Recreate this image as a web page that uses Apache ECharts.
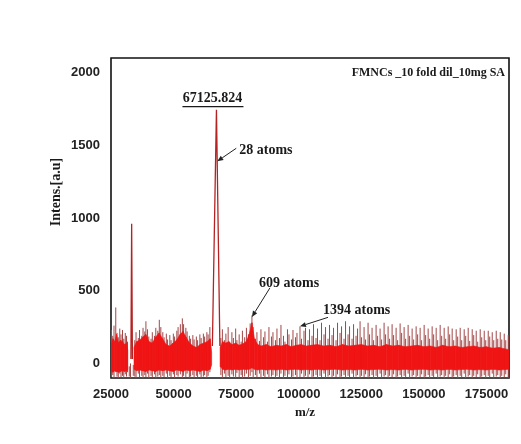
<!DOCTYPE html>
<html>
<head>
<meta charset="utf-8">
<script src="https://cdn.jsdelivr.net/npm/echarts@6/dist/echarts.min.js"></script>
<style>
  html, body { margin: 0; padding: 0; background: #fff; }
  #chart { width: 521px; height: 444px; }
</style>
</head>
<body>
<div id="chart"></div>
<script>
// dense noise core of the spectrum (m/z, lower edge, upper edge); null = no baseline noise
const bandMz = [25100, 25800, 26500, 27200, 28000, 28800, 29600, 30400, 31200, 31700, 32000,
  34200, 35200, 36400, 37600, 38900, 40200, 41500, 42800, 44200, 45600, 47000, 48400, 49800,
  51200, 52600, 53800, 55000, 56400, 57800, 59200, 60600, 62000, 63400, 64600, 65200, 65400,
  68600, 69600, 70800, 72000, 73400, 74800, 76200, 77600, 79000, 80200, 81300, 82300, 83600,
  85000, 87000, 89000, 91000, 93000, 95000, 97000, 99000, 101000, 103000, 105000, 107500,
  110000, 112500, 115000, 117500, 120000, 122500, 125000, 127500, 130000, 132500, 135000,
  137500, 140000, 142500, 145000, 147500, 150000, 152500, 155000, 157500, 160000, 162500,
  165000, 167500, 170000, 172500, 175000, 177500, 180000, 182500, 184000];
const bandLow = [-55, -60, -50, -55, -60, -55, -50, -55, -50, -40, null,
  -40, -50, -45, -50, -55, -45, -50, -55, -45, -50, -45, -50, -55,
  -45, -50, -55, -45, -50, -45, -50, -55, -45, -50, -40, -10, null,
  -20, -40, -45, -40, -45, -40, -45, -40, -42, -40, -30, -40, -45,
  -40, -45, -42, -45, -40, -45, -42, -40, -45, -42, -45, -40,
  -45, -42, -40, -45, -42, -45, -40, -45, -42, -40, -45,
  -42, -45, -40, -45, -42, -40, -45, -42, -45, -40, -45, -42,
  -40, -45, -42, -45, -40, -45, -42, -40, -35];
const bandHigh = [130, 170, 150, 200, 140, 160, 150, 130, 140, 90, null,
  110, 150, 160, 180, 200, 150, 140, 180, 210, 170, 130, 120, 140,
  160, 200, 220, 180, 140, 120, 110, 130, 140, 150, 170, 80, null,
  110, 150, 140, 150, 130, 140, 125, 135, 150, 200, 280, 170, 130,
  120, 130, 115, 125, 120, 130, 115, 125, 130, 120, 125, 130,
  120, 125, 115, 130, 120, 125, 130, 120, 125, 115, 130,
  120, 125, 115, 120, 125, 115, 120, 110, 125, 115, 120, 110,
  115, 120, 110, 115, 105, 110, 100, 95];

// individual noise spikes sticking out of the core: [m/z, bottom, top]
const spikes = [
  [25200, -95, 230], [25700, -80, 190], [26200, -100, 260], [26900, -60, 385], [27400, -90, 210],
  [27900, -100, 180], [28500, -70, 240], [29000, -95, 200], [29600, -85, 230], [30100, -100, 170],
  [30700, -75, 210], [31200, -90, 190], [31600, -60, 150],
  [32300, -90, -20], [32800, -100, 0], [33900, -85, -10],
  [34500, -90, 160], [35000, -100, 215], [35900, -70, 175], [36400, -95, 230], [37300, -85, 190],
  [37800, -100, 245], [38500, -80, 220], [38950, -95, 290], [39600, -70, 235], [40100, -100, 185],
  [41000, -85, 170], [41500, -95, 215], [42400, -75, 190], [42900, -100, 245], [43700, -90, 225],
  [44300, -80, 300], [44900, -100, 250], [45700, -85, 215], [46200, -95, 180], [47100, -70, 205],
  [47600, -100, 165], [48500, -85, 195], [49000, -95, 160], [49900, -75, 205], [50400, -100, 185],
  [51300, -80, 225], [51800, -90, 250], [52700, -75, 270], [53500, -100, 310], [54000, -85, 270],
  [54900, -95, 245], [55400, -70, 220], [56300, -100, 190], [56800, -90, 170], [57700, -80, 195],
  [58200, -100, 165], [59100, -85, 185], [59600, -95, 160], [60500, -75, 200], [61000, -100, 175],
  [61900, -90, 205], [62400, -80, 185], [63300, -100, 215], [63800, -85, 200], [64500, -60, 250],
  [68900, -80, 175], [69500, -100, 235], [70300, -70, 160], [70900, -95, 205], [71800, -85, 250],
  [72400, -100, 150], [73300, -75, 215], [73900, -90, 175], [74800, -100, 240], [75300, -65, 160],
  [76200, -95, 200], [77000, -80, 150], [77500, -100, 225], [78400, -90, 180], [79100, -70, 245],
  [79900, -100, 200], [80600, -85, 275], [81300, -60, 330], [81800, -100, 250], [82700, -80, 170],
  [83300, -95, 215], [84300, -70, 155], [84900, -100, 235], [85900, -85, 180], [86500, -95, 220],
  [87500, -75, 150], [88100, -100, 250], [89100, -90, 185], [89700, -80, 215], [90700, -100, 160],
  [91300, -85, 240], [92300, -95, 175], [92900, -70, 265], [93900, -100, 190], [94500, -85, 150],
  [95500, -95, 235], [96100, -75, 200], [97100, -100, 165], [97700, -90, 230], [98700, -80, 180],
  [99300, -100, 210], [100500, -95, 255], [101100, -70, 170], [102100, -100, 225], [102700, -85, 245],
  [103700, -95, 160], [104300, -75, 235], [105300, -100, 190], [105900, -90, 270], [106900, -80, 175],
  [107500, -100, 240], [108500, -85, 160], [109100, -95, 280], [110100, -70, 200], [110700, -100, 250],
  [111700, -90, 170], [112300, -80, 265], [113300, -100, 195], [113900, -85, 245], [114900, -95, 160],
  [115500, -75, 280], [116500, -100, 210], [117100, -90, 255], [118100, -80, 170], [118700, -100, 290],
  [119700, -85, 200], [120300, -95, 255], [121300, -70, 170], [121900, -100, 270], [122900, -90, 190],
  [123500, -80, 240], [124500, -100, 290], [125100, -85, 180], [126100, -95, 250], [126700, -75, 165],
  [127700, -100, 280], [128300, -90, 200], [129300, -80, 245], [129900, -100, 160], [130900, -85, 265],
  [131500, -95, 190], [132500, -70, 240], [133100, -100, 165], [134100, -90, 280], [134700, -80, 200],
  [135700, -100, 255], [136300, -85, 170], [137300, -95, 270], [137900, -75, 195], [138900, -100, 245],
  [139500, -90, 160], [140500, -80, 275], [141100, -100, 210], [142100, -85, 250], [142700, -95, 170],
  [143700, -70, 265], [144300, -100, 190], [145300, -90, 240], [145900, -80, 165], [146900, -100, 255],
  [147500, -85, 200], [148500, -95, 245], [149100, -75, 160], [150100, -100, 265], [150700, -90, 195],
  [151700, -80, 240], [152300, -100, 170], [153300, -85, 255], [153900, -95, 200], [154900, -70, 245],
  [155500, -100, 160], [156500, -90, 265], [157100, -80, 190], [158100, -100, 245], [158700, -85, 170],
  [159700, -95, 255], [160300, -75, 200], [161300, -100, 240], [161900, -90, 160], [162900, -80, 235],
  [163500, -100, 185], [164500, -85, 245], [165100, -95, 160], [166100, -70, 235], [166700, -100, 190],
  [167700, -90, 245], [168300, -80, 155], [169300, -100, 235], [169900, -85, 195], [170900, -95, 225],
  [171500, -75, 150], [172500, -100, 235], [173100, -90, 180], [174100, -80, 225], [174700, -100, 160],
  [175700, -85, 225], [176300, -95, 185], [177300, -70, 215], [177900, -100, 160], [178900, -90, 225],
  [179500, -80, 170], [180500, -100, 215], [181100, -85, 165], [182100, -95, 205], [182700, -75, 160],
  [183700, -100, 195]
];

// the two big peaks
const mainPeakMz = [65500, 67125, 68500];
const mainPeakInt = [120, 1745, 120];
const halfPeakMz = [32950, 33250, 33550];
const halfPeakInt = [30, 960, 30];

const serif = '"Liberation Serif", "DejaVu Serif", serif';
const sans = '"Liberation Sans", Arial, sans-serif';

const chart = echarts.init(document.getElementById('chart'));

const bandData = bandMz.map((x, i) => [x, bandLow[i], bandHigh[i]]);

chart.setOption({
  animation: false,
  grid: { left: 111, right: 12, top: 58, bottom: 66, show: true, borderColor: '#111', borderWidth: 1.6 },
  xAxis: {
    type: 'value', min: 25000, max: 184000, interval: 25000,
    axisLine: { show: false }, axisTick: { show: false }, splitLine: { show: false },
    axisLabel: {
      margin: 10, color: '#222', fontFamily: sans, fontWeight: 'bold', fontSize: 13,
      formatter: v => (v % 25000 === 0 ? String(v) : '')
    }
  },
  yAxis: {
    type: 'value', min: -100, max: 2100, splitNumber: 4,
    axisLine: { show: false }, axisTick: { show: false }, splitLine: { show: false },
    axisLabel: {
      margin: 11, color: '#222', fontFamily: sans, fontWeight: 'bold', fontSize: 13,
      formatter: v => (v % 500 === 0 ? String(v) : '')
    }
  },
  series: [
    {
      type: 'custom', name: 'spikes', data: spikes, clip: true, z: 2,
      encode: { x: 0, y: [1, 2] },
      renderItem: (params, api) => {
        const p1 = api.coord([api.value(0), api.value(1)]);
        const p2 = api.coord([api.value(0), api.value(2)]);
        return {
          type: 'line',
          shape: { x1: p1[0], y1: p1[1], x2: p2[0], y2: p2[1] },
          style: { stroke: '#a44646', lineWidth: 1 }
        };
      }
    },
    {
      type: 'custom', name: 'band', data: bandData, clip: true, z: 3,
      encode: { x: 0, y: [1, 2] },
      renderItem: (params, api) => {
        const i = params.dataIndex;
        if (i >= bandMz.length - 1) return null;
        if (bandLow[i] == null || bandLow[i + 1] == null) return null;
        const pts = [
          api.coord([bandMz[i], bandLow[i]]),
          api.coord([bandMz[i], bandHigh[i]]),
          api.coord([bandMz[i + 1], bandHigh[i + 1]]),
          api.coord([bandMz[i + 1], bandLow[i + 1]])
        ];
        return {
          type: 'polygon', shape: { points: pts },
          style: { fill: '#f01414', stroke: '#f01414', lineWidth: 0.6 }
        };
      }
    },
    {
      type: 'line', name: 'main', z: 4, symbol: 'none',
      data: mainPeakMz.map((x, i) => [x, mainPeakInt[i]]),
      lineStyle: { color: '#b42222', width: 1.3 }
    },
    {
      type: 'line', name: 'half', z: 4, symbol: 'none',
      data: halfPeakMz.map((x, i) => [x, halfPeakInt[i]]),
      lineStyle: { color: '#b42222', width: 1.3 }
    }
  ]
});

// annotations, placed relative to the data points they point at
function px(x, y) { return chart.convertToPixel({ gridIndex: 0 }, [x, y]); }

function label(text, x, y, size, align, extra) {
  return Object.assign({
    type: 'text', x: x, y: y, z: 10,
    style: {
      text: text, fill: '#1a1a1a', fontFamily: serif, fontWeight: 'bold', fontSize: size,
      align: align || 'left', verticalAlign: 'middle'
    }
  }, extra || {});
}

function arrow(x1, y1, x2, y2) {
  const a = Math.atan2(y2 - y1, x2 - x1);
  const len = 6, w = 2.5;
  const bx = x2 - len * Math.cos(a), by = y2 - len * Math.sin(a);
  return [
    { type: 'line', z: 10, shape: { x1: x1, y1: y1, x2: bx, y2: by }, style: { stroke: '#222', lineWidth: 1 } },
    {
      type: 'polygon', z: 10,
      shape: { points: [[x2, y2], [bx + w * Math.sin(a), by - w * Math.cos(a)], [bx - w * Math.sin(a), by + w * Math.cos(a)]] },
      style: { fill: '#222' }
    }
  ];
}

const peakTop = px(67125, 1745);
const tip28 = px(67450, 1390);
const tip609 = px(81300, 320);
const tip1394 = px(100500, 255);

const g = [];
g.push(label('67125.824', peakTop[0] - 4, peakTop[1] - 11, 14, 'center'));
g.push({ type: 'line', z: 10, shape: { x1: peakTop[0] - 34, y1: peakTop[1] - 3, x2: peakTop[0] + 27, y2: peakTop[1] - 3 }, style: { stroke: '#1a1a1a', lineWidth: 1.2 } });
g.push(label('28 atoms', tip28[0] + 22, tip28[1] - 11, 14));
g.push(...arrow(tip28[0] + 19, tip28[1] - 13, tip28[0], tip28[1]));
g.push(label('609 atoms', tip609[0] + 7, tip609[1] - 34, 14));
g.push(...arrow(tip609[0] + 18, tip609[1] - 29, tip609[0], tip609[1]));
g.push(label('1394 atoms', tip1394[0] + 23, tip1394[1] - 16, 14));
g.push(...arrow(tip1394[0] + 28, tip1394[1] - 9, tip1394[0], tip1394[1]));
g.push(label('FMNCs _10 fold dil_10mg SA', 505, 73, 12, 'right'));
g.push(label('Intens.[a.u]', 56, 192, 14, 'center', { rotation: Math.PI / 2 }));
g.push(label('m/z', 305, 413, 13, 'center'));

chart.setOption({ graphic: g });
</script>
</body>
</html>
